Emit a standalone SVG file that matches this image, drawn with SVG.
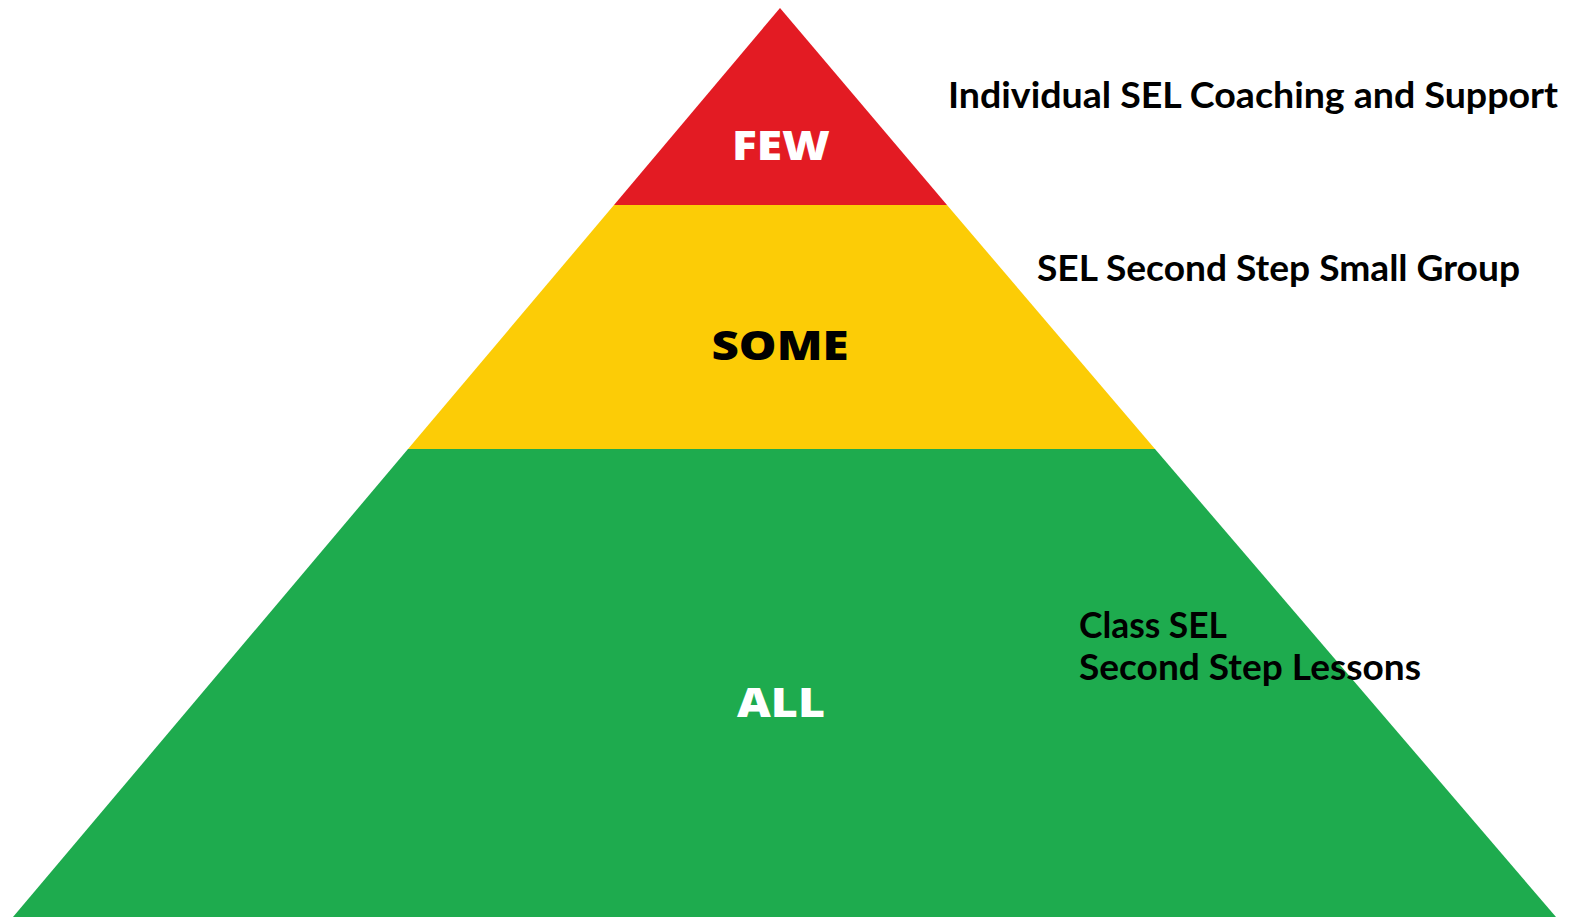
<svg xmlns="http://www.w3.org/2000/svg" width="1577" height="917" viewBox="0 0 1577 917">
<style>
.lbl{font-family:"Open Sans","DejaVu Sans",sans-serif;font-weight:800;font-size:41px;text-anchor:middle}
.side{font-family:"Lato","Liberation Sans",sans-serif;font-weight:bold;font-size:37px;fill:#000}
</style>
<rect width="1577" height="917" fill="#ffffff"/>
<g id="tier-few">
<polygon points="780,8 947,205 614,205" fill="#E31B23"/>
<text class="lbl" x="781" y="160" fill="#ffffff" textLength="98" lengthAdjust="spacingAndGlyphs">FEW</text>
</g>
<g id="tier-some">
<polygon points="614,205 947,205 1155,449 408,449" fill="#FCCC06"/>
<text class="lbl" x="780" y="360" fill="#000000" textLength="137" lengthAdjust="spacingAndGlyphs">SOME</text>
</g>
<g id="tier-all">
<polygon points="408,449 1155,449 1556,917 13,917" fill="#1EAB4E"/>
<text class="lbl" x="781" y="717" fill="#ffffff" textLength="88" lengthAdjust="spacingAndGlyphs">ALL</text>
</g>
<g id="labels">
<text class="side" x="948" y="108" textLength="610" lengthAdjust="spacingAndGlyphs">Individual SEL Coaching and Support</text>
<text class="side" x="1037" y="281" textLength="483" lengthAdjust="spacingAndGlyphs">SEL Second Step Small Group</text>
<text class="side" x="1079" y="638" textLength="148" lengthAdjust="spacingAndGlyphs">Class SEL</text>
<text class="side" x="1079" y="680" textLength="342" lengthAdjust="spacingAndGlyphs">Second Step Lessons</text>
</g>
<g id="connectors"></g>
</svg>
